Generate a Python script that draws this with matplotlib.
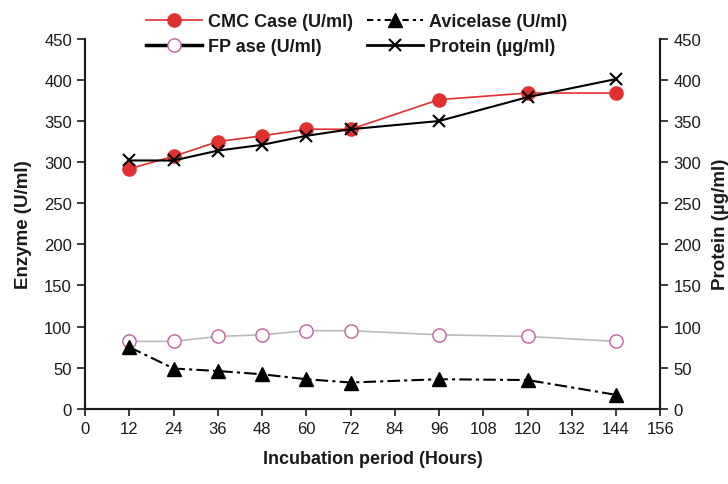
import matplotlib
matplotlib.use("Agg")
import matplotlib.pyplot as plt
from matplotlib.lines import Line2D

plt.rcParams['font.family'] = ['Liberation Sans', 'DejaVu Sans']

hours = [12, 24, 36, 48, 60, 72, 96, 120, 144]
cmc = [292, 307, 325, 332, 340, 340, 376, 384, 384]
fpase = [82, 82, 88, 90, 95, 95, 90, 88, 82]
avicelase = [75, 49, 46, 42, 36, 32, 36, 35, 17]
protein = [302, 302, 314, 321, 332, 340, 350, 379, 401]
xticks = list(range(0, 157, 12))
yticks = list(range(0, 451, 50))
labels = ['CMC Case (U/ml)', 'FP ase (U/ml)', 'Avicelase (U/ml)', 'Protein (µg/ml)']

txt = '#1a1a1a'
fig = plt.figure(figsize=(7.28, 4.85), dpi=100)
ax = fig.add_axes([0.117, 0.155, 0.79, 0.763])
ax2 = ax.twinx()

ax.plot(hours, cmc, color='#e03030', lw=1.2, marker='o', ms=9.5,
        markerfacecolor='#e03030', markeredgecolor='#e03030', zorder=4)
ax.plot(hours, fpase, color='#bbbbbb', lw=1.2, marker='o', ms=9.5,
        markerfacecolor='white', markeredgecolor='#c060a0', zorder=3)
ax.plot(hours, avicelase, color='black', lw=1.5, ls=(0, (6, 2, 1.5, 2)),
        marker='^', ms=10, markerfacecolor='black', markeredgecolor='black', zorder=3)
ax2.plot(hours, protein, color='black', lw=1.5, marker='x', ms=9,
         markeredgewidth=1.5, zorder=2)

for a in (ax, ax2):
    a.set_ylim(0, 450)
    a.set_yticks(yticks)
    a.tick_params(direction='out', length=6, width=1.2, labelsize=12, colors=txt)
    for s in a.spines.values():
        s.set_linewidth(1.5)
        s.set_color(txt)
    a.spines['top'].set_visible(False)
ax.tick_params(axis='x', length=5)
ax.set_xlim(0, 156)
ax.set_xticks(xticks)

ax.set_xlabel('Incubation period (Hours)', fontsize=13, fontweight='bold', labelpad=10, color=txt)
ax.set_ylabel('Enzyme (U/ml)', fontsize=13.5, fontweight='bold', labelpad=9, color=txt)
ax2.set_ylabel('Protein (µg/ml)', fontsize=13.5, fontweight='bold', labelpad=8, color=txt)

handles = [
    Line2D([], [], color='#e03030', lw=1.2, marker='o', ms=9.5,
           markerfacecolor='#e03030', markeredgecolor='#e03030'),
    Line2D([], [], color='black', lw=2.5, marker='o', ms=9.5,
           markerfacecolor='white', markeredgecolor='#c060a0'),
    Line2D([], [], color='black', lw=1.5, ls=(0, (3, 2, 1.5, 2)), marker='^', ms=10,
           markerfacecolor='black', markeredgecolor='black'),
    Line2D([], [], color='black', lw=2, marker='x', ms=9, markeredgewidth=1.5),
]
fig.legend(handles, labels, ncol=2, loc='upper center', bbox_to_anchor=(0.49, 1.005),
           frameon=False, prop={'weight': 'bold', 'size': 13}, handlelength=3.1,
           columnspacing=0.8, labelspacing=0.45, handletextpad=0.3, labelcolor=txt)

fig.savefig('out.png', dpi=100)
